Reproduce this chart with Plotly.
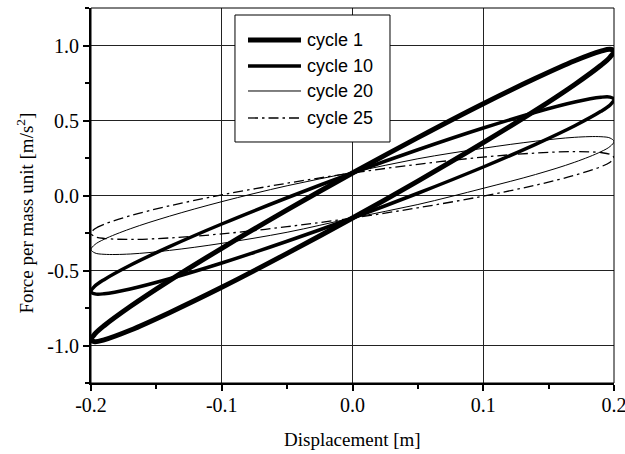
import plotly.graph_objects as go

# ---- data ----
X_PTS = [-0.2, -0.197, -0.19, -0.17, -0.14, -0.1, -0.05, 0.0, 0.05, 0.1, 0.14, 0.17, 0.19, 0.197, 0.2]

# upper branch (travelling right) and lower branch (given at the same ascending x)
c1_upper = [-0.963, -0.923, -0.868, -0.740, -0.567, -0.352, -0.096, 0.150, 0.386, 0.612, 0.781, 0.898, 0.962, 0.975, 0.963]
c1_lower = [-0.963, -0.975, -0.962, -0.898, -0.781, -0.612, -0.386, -0.150, 0.096, 0.352, 0.567, 0.740, 0.868, 0.923, 0.963]

c10_upper = [-0.640, -0.604, -0.561, -0.465, -0.341, -0.190, -0.015, 0.150, 0.305, 0.450, 0.555, 0.623, 0.655, 0.656, 0.640]
c10_lower = [-0.640, -0.656, -0.655, -0.623, -0.555, -0.450, -0.305, -0.150, 0.015, 0.190, 0.341, 0.465, 0.561, 0.604, 0.640]

c20_upper = [-0.360, -0.327, -0.292, -0.222, -0.138, -0.041, 0.065, 0.155, 0.245, 0.315, 0.362, 0.388, 0.392, 0.383, 0.360]
c20_lower = [-0.360, -0.383, -0.392, -0.390, -0.366, -0.319, -0.245, -0.150, -0.060, 0.048, 0.140, 0.222, 0.292, 0.327, 0.360]

c25_upper = [-0.252, -0.222, -0.192, -0.135, -0.069, 0.004, 0.082, 0.150, 0.208, 0.256, 0.283, 0.293, 0.286, 0.274, 0.252]
c25_lower = [-0.252, -0.274, -0.286, -0.293, -0.283, -0.256, -0.208, -0.150, -0.082, -0.004, 0.069, 0.135, 0.192, 0.222, 0.252]

SERIES_NAMES = ["cycle 1", "cycle 10", "cycle 20", "cycle 25"]

X_TICKS = [-0.2, -0.1, 0.0, 0.1, 0.2]
X_TICK_LABELS = ["-0.2", "-0.1", "0.0", "0.1", "0.2"]
X_MINOR = [-0.15, -0.05, 0.05, 0.15]
Y_TICKS = [-1.0, -0.5, 0.0, 0.5, 1.0]
Y_TICK_LABELS = ["-1.0", "-0.5", "0.0", "0.5", "1.0"]
Y_MINOR = [-1.25, -0.75, -0.25, 0.25, 0.75, 1.25]

# ---- styles ----
STYLES = [
    dict(width=5, dash="solid"),
    dict(width=3.5, dash="solid"),
    dict(width=1, dash="solid"),
    dict(width=1.3, dash="10px,4px,2.5px,4px"),
]

loops = [(c1_upper, c1_lower), (c10_upper, c10_lower), (c20_upper, c20_lower), (c25_upper, c25_lower)]

fig = go.Figure()
for name, (up, lo), st in zip(SERIES_NAMES, loops, STYLES):
    xs = list(X_PTS) + list(reversed(X_PTS))[1:]
    ys = list(up) + list(reversed(lo))[1:]
    fig.add_trace(go.Scatter(
        x=xs, y=ys, mode="lines", name=name,
        line=dict(color="black", width=st["width"], dash=st["dash"], shape="spline", smoothing=1.0),
        showlegend=False, hoverinfo="skip",
    ))

serif = "Liberation Serif, Times New Roman, serif"
sans = "Liberation Sans, Arial, sans-serif"

axis_common = dict(
    showline=True, linewidth=2, linecolor="black",
    showgrid=True, gridcolor="#222222", gridwidth=1,
    zeroline=False, automargin=False, ticklabeloverflow="allow",
    ticks="outside", ticklen=6, tickwidth=1.5, tickcolor="black",
    tickfont=dict(family=serif, size=20, color="black"),
)

fig.update_xaxes(range=[-0.2, 0.2], tickmode="array", tickvals=X_TICKS, ticktext=X_TICK_LABELS,
                 ticklabelstandoff=-3,
                 minor=dict(tickmode="array", tickvals=X_MINOR, ticks="outside", ticklen=4, tickwidth=1.5,
                            tickcolor="black", showgrid=False),
                 **axis_common)
fig.update_yaxes(range=[-1.25, 1.25], tickmode="array", tickvals=Y_TICKS, ticktext=Y_TICK_LABELS,
                 minor=dict(tickmode="array", tickvals=Y_MINOR, ticks="outside", ticklen=4, tickwidth=1.5,
                            tickcolor="black", showgrid=False),
                 **axis_common)

# plot frame
shapes = [dict(type="rect", xref="paper", yref="paper", x0=0, x1=1, y0=0, y1=1,
               line=dict(color="black", width=1), layer="above")]

# legend box (manual, to match sample length)
L_X0, L_X1, L_Y0, L_Y1 = 0.2753, 0.5717, 0.6427, 0.9813
shapes.append(dict(type="rect", xref="paper", yref="paper", x0=L_X0, x1=L_X1, y0=L_Y0, y1=L_Y1,
                   line=dict(color="black", width=1), fillcolor="white", layer="above"))
ROW_Y = [0.9147, 0.8453, 0.7787, 0.7067]
annotations = []
for name, st, ry in zip(SERIES_NAMES, STYLES, ROW_Y):
    shapes.append(dict(type="line", xref="paper", yref="paper", x0=0.3002, x1=0.4015, y0=ry, y1=ry,
                       line=dict(color="black", width=st["width"], dash=st["dash"]), layer="above"))
    annotations.append(dict(xref="paper", yref="paper", x=0.4092, y=ry, text=name, showarrow=False,
                            xanchor="left", yanchor="middle", font=dict(family=sans, size=18, color="black")))

annotations.append(dict(xref="paper", yref="paper", x=0.5, y=-0.150, text="Displacement [m]", showarrow=False,
                        xanchor="center", yanchor="middle", font=dict(family=serif, size=19, color="black")))
annotations.append(dict(xref="paper", yref="paper", x=-0.128, y=0.452, text="Force per mass unit [m/s<sup>2</sup>]",
                        showarrow=False, textangle=-90, xanchor="center", yanchor="middle",
                        font=dict(family=serif, size=19, color="black")))

fig.update_layout(
    width=625, height=454,
    margin=dict(l=91, r=11, t=8, b=71, autoexpand=False),
    plot_bgcolor="white", paper_bgcolor="white",
    showlegend=False, hovermode=False,
    shapes=shapes, annotations=annotations,
)

fig.write_html("out.html", config={"displayModeBar": False},
               post_script="document.body.style.margin='0';document.body.style.overflow='hidden';")
